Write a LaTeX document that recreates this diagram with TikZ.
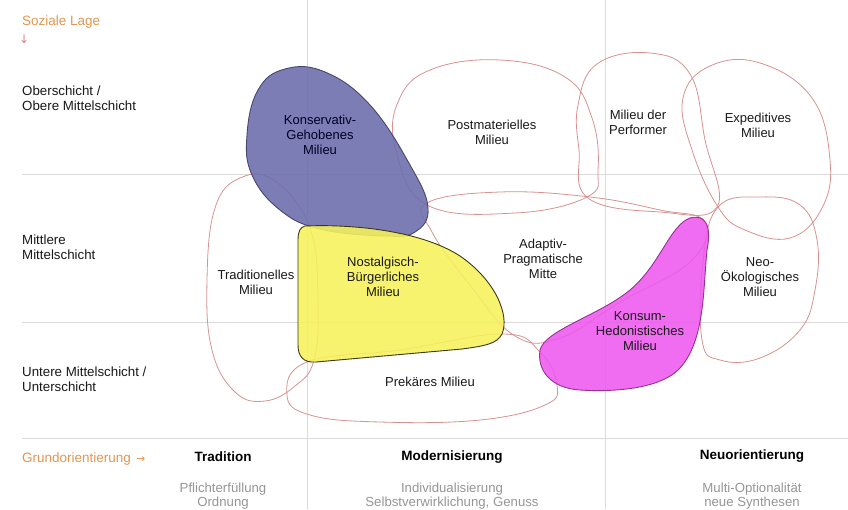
\documentclass[tikz,border=0pt]{standalone}
\usepackage{fontspec}
\setmainfont{Liberation Sans}
\newfontfamily\arrowfont{DejaVu Sans}
\definecolor{gridgray}{RGB}{218,218,218}
\definecolor{milieured}{RGB}{216,146,146}
\definecolor{accent}{RGB}{226,150,80}
\definecolor{arrowpink}{RGB}{222,130,130}
\definecolor{subgray}{RGB}{150,150,150}
\definecolor{navyfill}{RGB}{108,108,172}
\definecolor{navyline}{RGB}{70,70,110}
\definecolor{yellowfill}{RGB}{246,242,90}
\definecolor{yellowline}{RGB}{60,55,20}
\definecolor{magentafill}{RGB}{238,88,238}
\definecolor{magentaline}{RGB}{150,50,150}
\tikzset{
  gridline/.style={draw=gridgray, line width=0.6pt},
  milieu/.style={draw=milieured, line width=0.8pt},
  blob/.style={line width=0.9pt, fill opacity=0.88},
  label/.style={align=center, font=\fontsize{13}{15}\selectfont, text=black!90, inner sep=0pt},
  rowlabel/.style={align=left, anchor=west, font=\fontsize{13.3}{15.5}\selectfont, text=black!90, inner sep=0pt},
  head/.style={align=center, font=\fontsize{13.5}{15}\selectfont\bfseries, inner sep=0pt},
  sub/.style={align=center, font=\fontsize{13.2}{14}\selectfont, text=subgray, inner sep=0pt},
  axis/.style={anchor=west, font=\fontsize{13.5}{15}\selectfont, text=accent, inner sep=0pt}
}
\begin{document}
\begin{tikzpicture}[x=1pt, y=-1pt]
\path[fill=white, use as bounding box] (0,0) rectangle (848,509);

% grid
\draw[gridline] (307,0) -- (307,509);
\draw[gridline] (605,0) -- (605,509);
\draw[gridline] (22,174) -- (848,174);
\draw[gridline] (22,322) -- (848,322);
\draw[gridline] (22,438) -- (848,438);

% open milieu outlines
\draw[milieu] plot[smooth cycle, tension=0.7] coordinates {(427,205) (396,150) (398,102) (430,70) (500,60) (565,77) (592,118) (598,170) (587,197) (515,213)};
\draw[milieu] plot[smooth cycle, tension=0.7] coordinates {(427,203) (500,192) (590,197) (660,210) (705,222) (690,262) (620,302) (560,338) (515,336) (470,285) (432,232)};
\draw[milieu] plot[smooth cycle, tension=0.7] coordinates {(578,105) (597,64) (650,53) (690,74) (705,140) (717,207) (660,212) (588,198) (579,150)};
\draw[milieu] plot[smooth cycle, tension=0.7] coordinates {(718,207) (692,150) (683,98) (710,66) (760,63) (812,98) (830,160) (822,208) (790,238) (745,230)};
\draw[milieu] plot[smooth cycle, tension=0.7] coordinates {(718,207) (760,197) (800,205) (817,240) (815,290) (800,330) (760,358) (720,360) (702,340) (703,262)};
\draw[milieu] plot[smooth cycle, tension=0.7] coordinates {(310,228) (275,181) (240,178) (215,208) (207,280) (212,350) (235,392) (265,401) (295,386) (314,360) (318,300)};
\draw[milieu] plot[smooth cycle, tension=0.7] coordinates {(307,362) (400,350) (503,334) (540,352) (557,385) (545,405) (480,420) (380,422) (310,415) (287,395)};

% filled milieus
\draw[blob, draw=navyline, fill=navyfill] plot[smooth cycle, tension=0.7] coordinates {(247,135) (258,90) (285,69) (325,72) (370,105) (410,165) (428,208) (415,232) (385,236) (320,229) (280,210) (252,175)};
\draw[blob, draw=yellowline, fill=yellowfill]
  (305,226) .. controls (350,224) and (420,230) .. (460,256)
  .. controls (495,280) and (510,315) .. (502,334)
  .. controls (497,344) and (484,346) .. (462,349)
  -- (316,362) .. controls (303,363) and (298,356) .. (298,345)
  -- (298,240) .. controls (298,232) and (300,227) .. (305,226) -- cycle;
\draw[blob, draw=magentaline, fill=magentafill]
  (540,350) .. controls (545,330) and (600,315) .. (630,290)
  .. controls (660,265) and (670,225) .. (690,218)
  .. controls (705,214) and (712,225) .. (707,250)
  .. controls (703,290) and (705,340) .. (680,368)
  .. controls (660,390) and (610,392) .. (580,390)
  .. controls (550,388) and (537,370) .. (540,350) -- cycle;

% milieu names
\node[label, text=black!85!blue] (kons) at (320,135) {Konservativ-\\Gehobenes\\Milieu};
\node[label] (post) at (492,132) {Postmaterielles\\Milieu};
\node[label] (perf) at (638,122) {Milieu der\\Performer};
\node[label] (expe) at (758,125) {Expeditives\\Milieu};
\node[label] (trad) at (256,282) {Traditionelles\\Milieu};
\node[label] (nost) at (383,277) {Nostalgisch-\\Bürgerliches\\Milieu};
\node[label] (adap) at (543,259) {Adaptiv-\\Pragmatische\\Mitte};
\node[label] (neo) at (760,277) {Neo-\\Ökologisches\\Milieu};
\node[label] (kons2) at (640,331) {Konsum-\\Hedonistisches\\Milieu};
\node[label] (prek) at (430,382) {Prekäres Milieu};

% social position axis
\node[axis] (lage) at (22,22) {Soziale Lage};
\node[anchor=west, inner sep=0pt, text=arrowpink, font=\arrowfont\fontsize{12}{12}\selectfont] (lagearrow) at (19,39) {↓};
\node[rowlabel] (ober) at (22,98) {Oberschicht /\\Obere Mittelschicht};
\node[rowlabel] (mitte) at (22,247) {Mittlere\\Mittelschicht};
\node[rowlabel] (unter) at (22,379) {Untere Mittelschicht /\\Unterschicht};

% value orientation axis
\node[axis] (grund) at (22,459) {Grundorientierung\hspace{5pt}{\arrowfont\fontsize{11}{11}\selectfont →}};
\node[head] (tradh) at (223,457) {Tradition};
\node[head] (modh) at (452,457) {Modernisierung};
\node[head] (neuh) at (752,456) {Neuorientierung};
\node[sub] (trads) at (223,496) {Pflichterfüllung\\Ordnung};
\node[sub] (mods) at (452,496) {Individualisierung\\Selbstverwirklichung, Genuss};
\node[sub] (neus) at (752,496) {Multi-Optionalität\\neue Synthesen};
\end{tikzpicture}
\end{document}
